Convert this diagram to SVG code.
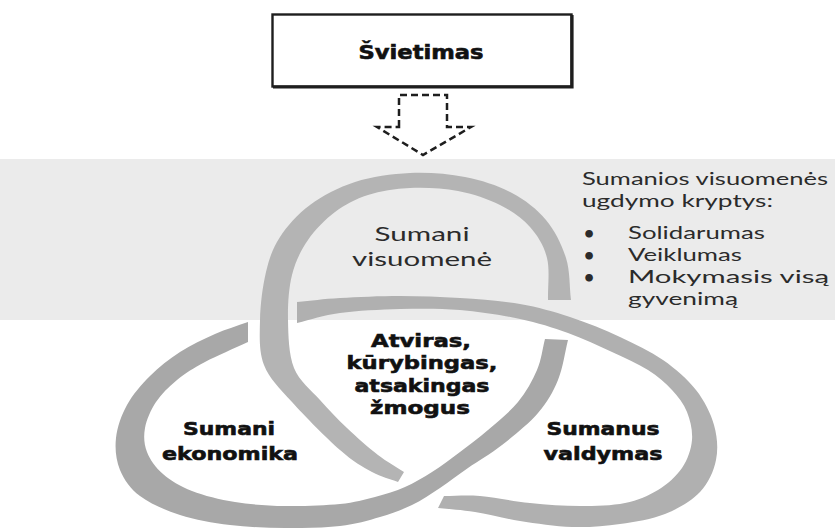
<svg xmlns="http://www.w3.org/2000/svg" width="835" height="528" viewBox="0 0 835 528">
<defs>
<style>
.bold{font-family:"DejaVu Sans",Verdana,sans-serif;font-weight:bold;fill:#111;stroke:#111;stroke-width:0.6;}
.reg{font-family:Lato,"Open Sans",sans-serif;fill:#2b2b2b;}
.ring1{fill:#b4b4b4;}
.ring2{fill:#b0b0b0;}
.ring3{fill:#a8a8a8;}
</style>
</defs>
<rect x="0" y="0" width="835" height="528" fill="#ffffff"/>
<rect id="band" x="0" y="159" width="835" height="161" fill="#ebebeb"/>

<g id="rings">
<path id="ring-visuomene" class="ring1" d="M571,300 C569.3,286 570.2,271.3 566,258 S555,230.8 546,220 S525.5,200.2 512,193 S482,180.3 465,177 S428.3,172.2 410,173 S371.7,176.7 355,182 S322.5,195.8 310,205 S287.3,225.8 280,237 S269.3,258.2 266,272 S260.3,304.5 260,320 S258.7,351.3 264,365 S279.3,387.8 292,402 S326.7,438.3 340,450 S362.3,466.7 372,472 S389.3,478.7 398,482 L404,472 C395.3,466.3 387.5,462.3 378,455 S356.7,437.2 347,428 S328.8,410 320,400 S299.3,381.3 294,368 S288.3,335.5 288,320 S288.7,288.3 292,275 S300.8,250.5 308,240 S325,219.5 335,212 S355.5,199 368,195 S395,188.7 410,188 S443,188.2 458,191 S488,199 500,205 S522.2,218.2 530,227 S544,245.8 547,258 S547.7,286 548,300 Z"/>
<path id="ring-valdymas" class="ring2" d="M297,302 C311.3,300.7 322.8,299 340,298 S380,296 400,296 S440,296.7 460,298 S501.7,300.8 520,304 S553.3,311.5 570,317 S604.5,329.8 620,337 S650.3,351.2 663,360 S687.5,379.2 696,390 S710.7,413.3 714,425 S718.3,448.8 716,460 S708.5,483 700,492 S678.3,508.7 665,514 S635.5,521.8 620,524 S588.7,527.5 572,527 S536.2,523.5 520,521 S488.7,514.2 475,512 S450.3,509.3 438,508 L444,496 C456,496 465.7,494.8 480,496 S513.3,501.3 530,503 S564.2,506 580,506 S612,505.7 625,503 S648.5,495.8 658,490 S676.3,476.3 682,468 S691.2,449.3 692,440 S690.3,420.3 687,412 S678.5,397 672,390 S658,376.3 648,370 S625.3,358.2 612,352 S583.3,338.5 568,333 S538,322.8 520,319 S480,311.7 460,310 S420,308.5 400,309 S357.2,310.7 340,313 S311.3,319.7 297,323 Z"/>
<path id="ring-ekonomika" class="ring3" d="M248,322 C237,326 226.3,329 215,334 S190.8,345 180,352 S158.8,367.2 150,376 S132.7,394.7 127,405 S117.2,427.2 116,438 S116,460.3 120,470 S130,488.5 140,496 S165,510.2 180,515 S212.5,522.8 230,525 S266.7,527.8 285,528 S324.2,527.8 340,526 S368,520.5 380,517 S402,509.8 412,505 S430.7,494.2 440,488 S457.7,475.2 468,468 S490.3,454.2 502,445 S528.7,423.8 538,413 S553,392.2 558,380 S564.7,353.3 568,340 L545,339 C542.3,349.3 541.5,359.5 537,370 S526.2,392 518,402 S497.7,421.7 488,430 S469.3,445 460,452 S441.2,466.2 432,472 S414.5,482.8 405,487 S385.8,494.2 375,497 S355,502.5 340,504 S302.5,506.3 285,506 S250.5,504.5 235,502 S204,495.7 192,491 S170.5,480.5 163,474 S150,459.7 147,452 S143.5,436.3 145,428 S150.7,410 156,402 S168.8,386.7 177,380 S193.2,368.3 205,362 S233.7,348.7 248,342 Z"/>
</g>

<g id="svietimas">
<rect x="272.5" y="14.5" width="299" height="72" fill="#ffffff" stroke="#1e1e1e" stroke-width="2.4"/>
<polyline points="572,15 572,87 273,87" fill="none" stroke="#1e1e1e" stroke-width="3.2"/>
<text class="bold" x="421" y="59" font-size="19" text-anchor="middle" textLength="125" lengthAdjust="spacingAndGlyphs">Švietimas</text>
</g>

<g id="connectors">
<path d="M399,127 L399,95 L447,95 L447,127 L471,127 L423,155 L377,127 Z" fill="none" stroke="#1e1e1e" stroke-width="2.5" stroke-dasharray="7 4" stroke-linejoin="miter"/>
</g>

<g id="visuomene">
<text class="reg" x="422" y="241" font-size="20" text-anchor="middle" textLength="95" lengthAdjust="spacingAndGlyphs">Sumani</text>
<text class="reg" x="422" y="266" font-size="20" text-anchor="middle" textLength="140" lengthAdjust="spacingAndGlyphs">visuomenė</text>
</g>

<g id="kryptys">
<text class="reg" x="582" y="185" font-size="17.5" textLength="246" lengthAdjust="spacingAndGlyphs">Sumanios visuomenės</text>
<text class="reg" x="582" y="207" font-size="17.5" textLength="191" lengthAdjust="spacingAndGlyphs">ugdymo kryptys:</text>
<text class="reg" x="584" y="239" font-size="17.5" font-weight="bold">•</text>
<text class="reg" x="628" y="239" font-size="17.5" textLength="137" lengthAdjust="spacingAndGlyphs">Solidarumas</text>
<text class="reg" x="584" y="261" font-size="17.5" font-weight="bold">•</text>
<text class="reg" x="628" y="261" font-size="17.5" textLength="114" lengthAdjust="spacingAndGlyphs">Veiklumas</text>
<text class="reg" x="584" y="283" font-size="17.5" font-weight="bold">•</text>
<text class="reg" x="628" y="283" font-size="17.5" textLength="201" lengthAdjust="spacingAndGlyphs">Mokymasis  visą</text>
<text class="reg" x="628" y="305" font-size="17.5" textLength="110" lengthAdjust="spacingAndGlyphs">gyvenimą</text>
</g>

<g id="zmogus">
<text class="bold" x="421" y="347" font-size="18.5" text-anchor="middle" textLength="100" lengthAdjust="spacingAndGlyphs">Atviras,</text>
<text class="bold" x="422" y="369" font-size="18.5" text-anchor="middle" textLength="151" lengthAdjust="spacingAndGlyphs">kūrybingas,</text>
<text class="bold" x="422" y="392" font-size="18.5" text-anchor="middle" textLength="135" lengthAdjust="spacingAndGlyphs">atsakingas</text>
<text class="bold" x="420" y="414" font-size="18.5" text-anchor="middle" textLength="100" lengthAdjust="spacingAndGlyphs">žmogus</text>
</g>

<g id="ekonomika">
<text class="bold" x="229" y="435" font-size="18" text-anchor="middle" textLength="92" lengthAdjust="spacingAndGlyphs">Sumani</text>
<text class="bold" x="230" y="460" font-size="18" text-anchor="middle" textLength="136" lengthAdjust="spacingAndGlyphs">ekonomika</text>
</g>

<g id="valdymas">
<text class="bold" x="603" y="435" font-size="18" text-anchor="middle" textLength="113" lengthAdjust="spacingAndGlyphs">Sumanus</text>
<text class="bold" x="603" y="460" font-size="18" text-anchor="middle" textLength="119" lengthAdjust="spacingAndGlyphs">valdymas</text>
</g>
</svg>
